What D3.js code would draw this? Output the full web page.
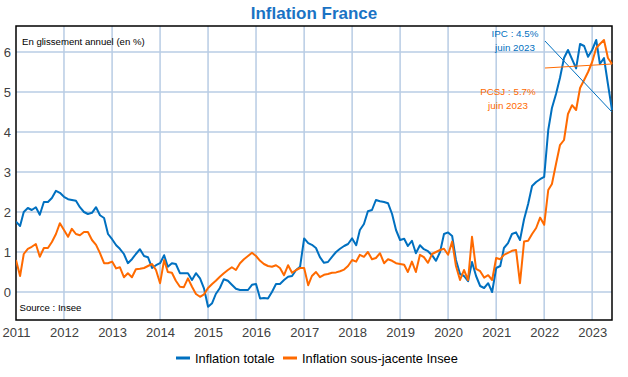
<!DOCTYPE html>
<html><head><meta charset="utf-8">
<script src="https://cdn.jsdelivr.net/npm/d3@7"></script>
<style>body{margin:0;background:#fff;}svg{display:block;font-family:"Liberation Sans",Arial,sans-serif;}</style>
</head><body><svg id="c" width="628" height="377"></svg>
<script>
const startYear = 2011, startMonth = 0; // monthly series from Jan 2011 to Jun 2023
const yearTicks = [2011,2012,2013,2014,2015,2016,2017,2018,2019,2020,2021,2022,2023];
const yTicks = [0,1,2,3,4,5,6];
const seriesNames = ["Inflation totale","Inflation sous-jacente Insee"];
const ipc = [1.76,1.65,2.0,2.1,2.05,2.12,1.93,2.25,2.25,2.35,2.53,2.48,
2.38,2.32,2.3,2.28,2.12,2.0,1.95,1.98,2.12,1.92,1.85,1.45,
1.32,1.17,1.08,0.95,0.72,0.82,0.95,1.07,0.9,0.87,0.6,0.67,
0.72,0.92,0.63,0.72,0.7,0.47,0.47,0.47,0.3,0.47,0.34,0.09,
-0.37,-0.28,-0.05,0.1,0.32,0.28,0.18,0.08,0.05,0.05,0.05,0.18,
0.2,-0.16,-0.15,-0.16,0.0,0.2,0.2,0.3,0.38,0.4,0.55,0.63,
1.34,1.22,1.18,1.1,0.87,0.73,0.75,0.88,1.0,1.08,1.15,1.2,
1.34,1.17,1.55,1.7,2.02,2.05,2.3,2.27,2.25,2.22,1.95,1.55,
1.3,1.33,1.15,1.28,0.97,1.17,1.07,1.02,0.92,0.78,1.0,1.45,
1.49,1.4,0.8,0.45,0.4,0.27,0.75,0.4,0.15,0.1,0.22,0.0,
0.6,0.65,1.1,1.22,1.45,1.49,1.3,1.82,2.2,2.65,2.75,2.82,
2.88,4.05,4.6,4.95,5.35,5.85,6.05,5.82,5.59,6.2,6.15,5.88,
6.05,6.3,5.7,5.85,5.2,4.55];
const core = [0.8,0.4,0.95,1.08,1.13,1.2,0.88,1.1,1.1,1.25,1.45,1.72,
1.55,1.38,1.58,1.45,1.42,1.5,1.5,1.3,1.18,0.97,0.72,0.72,
0.76,0.59,0.62,0.37,0.47,0.37,0.57,0.58,0.6,0.65,0.7,0.55,
0.22,0.8,0.5,0.48,0.28,0.13,0.12,0.34,0.13,-0.05,-0.12,-0.06,
0.1,0.2,0.28,0.38,0.47,0.55,0.62,0.55,0.72,0.82,0.9,0.98,
0.9,0.78,0.7,0.65,0.63,0.67,0.6,0.42,0.67,0.48,0.55,0.6,
0.6,0.17,0.4,0.5,0.37,0.43,0.45,0.48,0.49,0.52,0.56,0.65,
0.8,0.76,0.93,0.88,1.0,0.82,0.85,0.97,0.72,0.82,0.78,0.72,
0.7,0.68,0.5,0.76,0.5,0.93,0.87,0.73,0.95,1.0,1.05,1.08,
0.93,1.26,0.65,0.3,0.55,0.3,1.38,0.58,0.52,0.36,0.42,0.3,
0.85,0.82,0.93,0.98,1.03,1.05,0.22,1.26,1.28,1.45,1.6,1.86,
1.68,2.55,2.7,3.2,3.67,3.8,4.45,4.67,4.55,5.1,5.3,5.5,
5.75,6.1,6.2,6.3,5.85,5.7];
const annotations = [
  {lines:["IPC : 4.5%","juin 2023"], value:4.5, series:0},
  {lines:["PCSJ : 5.7%","juin 2023"], value:5.7, series:1}
];
const colors = ["#0070c0","#ff6a00"];

const svg = d3.select("#c");
const L=16, R=612, T=26, B=320;
const dateOf = i => new Date(startYear, startMonth + i, 1);
const x = d3.scaleTime().domain([new Date(2011,0,1), dateOf(ipc.length-1)]).range([L,R]);
const y = d3.scaleLinear().domain([-0.7,6.65]).range([B,T]);

// title
svg.append("text").attr("x",314).attr("y",19).attr("text-anchor","middle")
  .attr("font-size",17).attr("font-weight","bold").attr("fill","#1a73c4").text("Inflation France");

// grid
const g = svg.append("g");
g.selectAll(".vg").data(yearTicks.slice(1)).join("line")
  .attr("x1",d=>x(new Date(d,0,1))).attr("x2",d=>x(new Date(d,0,1)))
  .attr("y1",T).attr("y2",B).attr("stroke","#b8cce4").attr("stroke-width",1.5);
g.selectAll(".hg").data(yTicks).join("line")
  .attr("x1",L).attr("x2",R).attr("y1",d=>y(d)).attr("y2",d=>y(d))
  .attr("stroke","#b8cce4").attr("stroke-width",1.5);

// axes labels
const xa = d3.axisBottom(x).tickValues(yearTicks.map(d=>new Date(d,0,1))).tickFormat(d3.timeFormat("%Y")).tickSize(0).tickPadding(8);
const xg = svg.append("g").attr("transform",`translate(0,${B})`).call(xa);
xg.select(".domain").remove();
xg.selectAll("text").attr("font-size",13).attr("fill","#404040").attr("font-family","Liberation Sans, Arial, sans-serif");
const ya = d3.axisLeft(y).tickValues(yTicks).tickFormat(d3.format("d")).tickSize(0).tickPadding(5);
const yg = svg.append("g").attr("transform",`translate(${L},0)`).call(ya);
yg.select(".domain").remove();
yg.selectAll("text").attr("font-size",13).attr("fill","#404040").attr("font-family","Liberation Sans, Arial, sans-serif");

// frame
svg.append("rect").attr("x",L).attr("y",T).attr("width",R-L).attr("height",B-T)
  .attr("fill","none").attr("stroke","#000").attr("stroke-width",1.5);

// lines
const clip = svg.append("clipPath").attr("id","cp").append("rect").attr("x",L).attr("y",T).attr("width",R-L+2).attr("height",B-T);
const line = d3.line().x((d,i)=>x(dateOf(i))).y(d=>y(d));
[ipc, core].forEach((s,k)=>{
  svg.append("path").attr("d",line(s)).attr("fill","none").attr("stroke",colors[k])
    .attr("stroke-width",2).attr("stroke-linejoin","round").attr("clip-path","url(#cp)");
});

// texts in plot
svg.append("text").attr("x",22).attr("y",45).attr("font-size",9.6).attr("fill","#000").text("En glissement annuel (en %)");
svg.append("text").attr("x",19.5).attr("y",311).attr("font-size",9.6).attr("fill","#000").text("Source : Insee");

// annotations
const annPos = [{cx:515, y0:37, lx:545, ly:41},{cx:508, y0:95, lx:545, ly:68}];
annotations.forEach((a,k)=>{
  const p = annPos[k];
  a.lines.forEach((t,j)=>svg.append("text").attr("x",p.cx).attr("y",p.y0+j*13.5)
    .attr("text-anchor","middle").attr("font-size",9.8).attr("fill",colors[a.series]).text(t));
  const ex = x(dateOf(ipc.length-1)), ey = y(a.value);
  svg.append("line").attr("x1",p.lx).attr("y1",p.ly).attr("x2",ex).attr("y2",ey)
    .attr("stroke",colors[a.series]).attr("stroke-width",1);
});

// legend
const lg = svg.append("g");
const legX = [176, 283];
seriesNames.forEach((n,k)=>{
  lg.append("line").attr("x1",legX[k]).attr("x2",legX[k]+14).attr("y1",358).attr("y2",358)
    .attr("stroke",colors[k]).attr("stroke-width",3);
  lg.append("text").attr("x",legX[k]+19).attr("y",362.5).attr("font-size",12.8).attr("fill","#000").text(n);
});
</script></body></html>
